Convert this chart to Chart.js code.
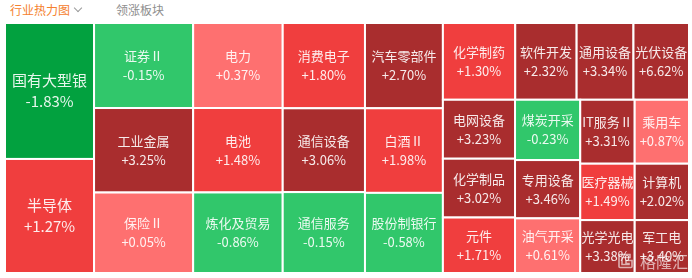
<!DOCTYPE html>
<html>
<head>
<meta charset="utf-8">
<script src="https://cdn.jsdelivr.net/npm/chart.js@4.4.1/dist/chart.umd.min.js"></script>
<style>
  html, body { margin: 0; padding: 0; background: #ffffff; }
  body { width: 692px; height: 278px; overflow: hidden; position: relative;
         font-family: "Noto Sans CJK SC", "Noto Sans", sans-serif; }
  #board { position: absolute; left: 0; top: 0; }
  .tab { position: absolute; top: 1px; font-size: 12px; line-height: 18px; white-space: nowrap; }
  .tab.on { left: 10px; color: #f5812e; }
  .tab.off { left: 116px; color: #8e8e8e; }
  .chev { position: absolute; left: 75px; top: 5px; width: 5px; height: 5px;
          border-right: 1.2px solid #9a9a9a; border-bottom: 1.2px solid #9a9a9a; transform: rotate(45deg); }
  .mark { position: absolute; left: 617px; top: 251px; height: 20px; display: flex; align-items: center;
          color: rgba(255,255,255,0.62); font-size: 16px; white-space: nowrap; }
  .mark svg { margin-right: 6px; }
</style>
</head>
<body>
<div class="tab on">行业热力图</div>
<div class="chev"></div>
<div class="tab off">领涨板块</div>
<canvas id="board" width="692" height="278"></canvas>
<div class="mark">
  <svg width="17" height="18" viewBox="0 0 17 18">
    <path d="M13 2.5 H3 a1 1 0 0 0 -1 1 V14.5 a1 1 0 0 0 1 1 H14 a1 1 0 0 0 1 -1 V8.5 H9 V11.5 H12 V12.5 H5 V5.5 H13 Z"
          fill="none" stroke="rgba(255,255,255,0.62)" stroke-width="1.6"/>
  </svg>
  <span>格隆汇</span>
</div>
<script>
// Industry sectors, daily change (%) and block size
const sectors = ['国有大型银','半导体','证券Ⅱ','工业金属','保险Ⅱ','电力','电池','炼化及贸易',
  '消费电子','通信设备','通信服务','汽车零部件','白酒Ⅱ','股份制银行','化学制药','软件开发',
  '通用设备','光伏设备','电网设备','化学制品','元件','煤炭开采','专用设备','油气开采',
  'IT服务Ⅱ','乘用车','医疗器械','计算机','光学光电','军工电'];
const changes = [-1.83, 1.27, -0.15, 3.25, 0.05, 0.37, 1.48, -0.86,
  1.80, 3.06, -0.15, 2.70, 1.98, -0.58, 1.30, 2.32,
  3.34, 6.62, 3.23, 3.02, 1.71, -0.23, 3.46, 0.61,
  3.31, 0.87, 1.49, 2.02, 3.38, 3.40];
const sizes = [121.0, 101.5, 84.2, 83.7, 79.7, 76.1, 75.6, 72.1,
  70.1, 68.9, 66.5, 66.4, 65.9, 62.4, 55.5, 47.1,
  43.6, 42.6, 42.5, 42.4, 40.0, 39.3, 38.0, 35.6,
  34.8, 34.7, 30.7, 30.6, 28.8, 28.7];

// plotting domain (same aspect as the chart area)
const W = 684, H = 250;

// colour buckets by change
function colorFor(v) {
  if (v <= -1) return '#02a13f';
  if (v < 0) return '#31c76b';
  if (v < 1) return '#fe7070';
  if (v < 2) return '#f03e3e';
  return '#a92d2e';
}
function fmt(v) { return (v > 0 ? '+' : '') + v.toFixed(2) + '%'; }

// squarified treemap layout in data units
function worst(row, side) {
  const s = row.reduce((a, r) => a + r.area, 0);
  const t = s / side;
  let m = 0;
  row.forEach(r => { const l = r.area / t; m = Math.max(m, t / l, l / t); });
  return m;
}
function squarify(items, x, y, w, h) {
  const out = [];
  let rest = items.slice();
  while (rest.length) {
    const column = h < w;
    const side = column ? h : w;
    let row = [rest[0]], i = 1, best = worst(row, side);
    while (i < rest.length) {
      const cand = row.concat([rest[i]]);
      const wr = worst(cand, side);
      if (wr > best) break;
      row = cand; best = wr; i++;
    }
    const thick = row.reduce((a, r) => a + r.area, 0) / side;
    let off = 0;
    row.forEach(r => {
      const len = r.area / thick;
      if (column) out.push(Object.assign({}, r, { x0: x, x1: x + thick, y0: y + off, y1: y + off + len }));
      else out.push(Object.assign({}, r, { x0: x + off, x1: x + off + len, y0: y, y1: y + thick }));
      off += len;
    });
    if (column) { x += thick; w -= thick; } else { y += thick; h -= thick; }
    rest = rest.slice(i);
  }
  return out;
}

const total = sizes.reduce((a, b) => a + b, 0);
const items = sectors.map((name, i) => ({ name, change: changes[i], area: sizes[i] / total * W * H }))
  .sort((a, b) => b.area - a.area);
const cells = squarify(items, 0, 0, W, H).map(c => Object.assign(c, { x: (c.x0 + c.x1) / 2, y: (c.y0 + c.y1) / 2 }));

const cellPlugin = {
  id: 'treemapCells',
  afterDatasetsDraw(chart) {
    const { ctx, scales: { x, y } } = chart;
    chart.data.datasets[0].data.forEach(c => {
      const l = x.getPixelForValue(c.x0), r = x.getPixelForValue(c.x1);
      const t = y.getPixelForValue(c.y0), b = y.getPixelForValue(c.y1);
      ctx.save();
      ctx.fillStyle = colorFor(c.change);
      ctx.fillRect(l, t, r - l, b - t);
      ctx.strokeStyle = '#ffffff';
      ctx.lineWidth = 2;
      ctx.strokeRect(l, t, r - l, b - t);
      ctx.beginPath();
      ctx.rect(l + 1, t + 1, r - l - 2, b - t - 2);
      ctx.clip();
      const big = (r - l) * (b - t) > 9500;
      const fs = big ? 15 : 13, gap = big ? 10.5 : 9.5;
      ctx.font = fs + 'px "Noto Sans CJK SC", "Noto Sans", sans-serif';
      ctx.fillStyle = 'rgba(255,255,255,0.9)';
      ctx.textAlign = 'center';
      ctx.textBaseline = 'middle';
      const cx = (l + r) / 2, cy = (t + b) / 2;
      ctx.fillText(c.name, cx, cy - gap);
      ctx.fillText(fmt(c.change), cx, cy + gap);
      ctx.restore();
    });
  }
};

new Chart(document.getElementById('board'), {
  type: 'scatter',
  data: { datasets: [{ data: cells, pointRadius: 0, pointHoverRadius: 0 }] },
  options: {
    responsive: false,
    animation: false,
    devicePixelRatio: 1,
    layout: { padding: { left: 5, top: 23, right: 3, bottom: 5 } },
    scales: {
      x: { type: 'linear', min: 0, max: W, display: false },
      y: { type: 'linear', min: 0, max: H, reverse: true, display: false }
    },
    plugins: { legend: { display: false }, tooltip: { enabled: false } },
    events: []
  },
  plugins: [cellPlugin]
});
</script>
</body>
</html>
